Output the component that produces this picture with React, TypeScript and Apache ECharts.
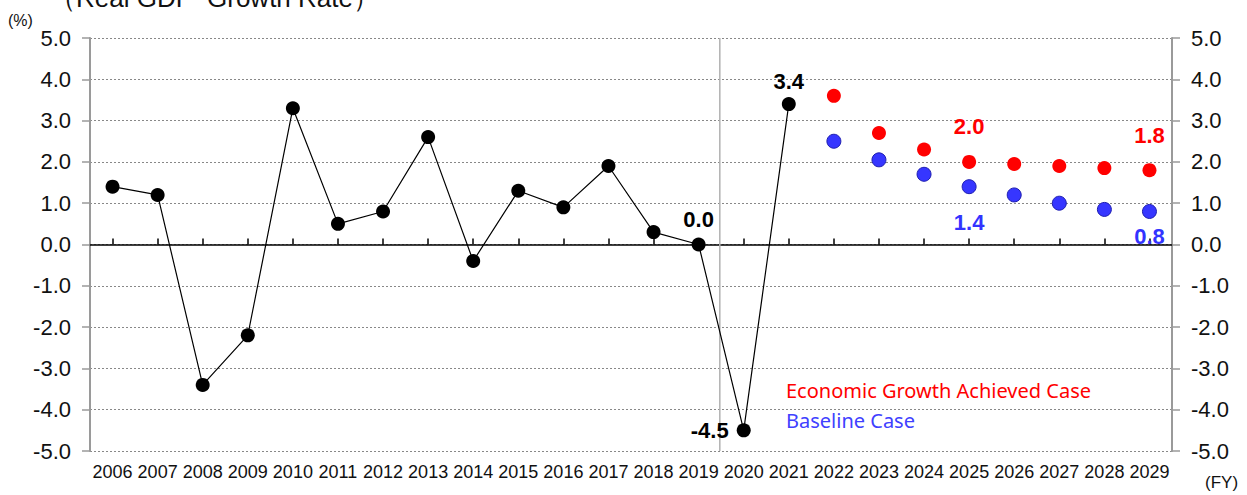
import React, { useEffect, useRef } from "react";
import * as echarts from "echarts";

const years = [
  "2006", "2007", "2008", "2009", "2010", "2011", "2012", "2013", "2014", "2015", "2016", "2017",
  "2018", "2019", "2020", "2021", "2022", "2023", "2024", "2025", "2026", "2027", "2028", "2029",
];
const actual = [1.4, 1.2, -3.4, -2.2, 3.3, 0.5, 0.8, 2.6, -0.4, 1.3, 0.9, 1.9, 0.3, 0.0, -4.5, 3.4];
const growthCase = [3.6, 2.7, 2.3, 2.0, 1.95, 1.9, 1.85, 1.8];
const baselineCase = [2.5, 2.05, 1.7, 1.4, 1.2, 1.0, 0.85, 0.8];
const yTicks = { min: -5, max: 5, interval: 1 };
// divider between actual (to FY2019) and forecast period, in category-index units
const dividerAt = 13.47;

const FONT = "'Liberation Sans', Arial, sans-serif";

export default function App() {
  const ref = useRef<HTMLDivElement>(null);
  useEffect(() => {
    document.body.style.margin = "0";
    const chart = echarts.init(ref.current!, null, { renderer: "svg" });
    const nA = actual.length;
    const blanks = (n: number) => new Array(n).fill(null);

    const lbl = (pos: string, color: string, extra: any = {}) => ({
      show: true,
      position: pos,
      color,
      fontFamily: FONT,
      fontWeight: "bold",
      fontSize: 22,
      formatter: (p: any) => Number(Array.isArray(p.value) ? p.value[1] : p.value).toFixed(1),
      ...extra,
    });

    const actualData: any[] = actual.map((v, i) => {
      const y = years[i];
      if (y === "2019") return { value: v, label: lbl("top", "#000", { distance: 7 }) };
      if (y === "2021") return { value: v, label: lbl("top", "#000", { distance: 5 }) };
      if (y === "2020") return { value: v, label: lbl("left", "#000", { distance: 8 }) };
      return v;
    });
    const growthData: any[] = blanks(nA).concat(
      growthCase.map((v, i) => {
        const y = years[nA + i];
        if (y === "2025" || y === "2029") return { value: v, label: lbl("top", "#ff0000", { distance: 17 }) };
        return v;
      })
    );
    const baseData: any[] = blanks(nA).concat(
      baselineCase.map((v, i) => {
        const y = years[nA + i];
        if (y === "2025") return { value: v, label: lbl("bottom", "#3333ff", { distance: 17 }) };
        if (y === "2029") return { value: v, label: lbl("bottom", "#3333ff", { distance: 7 }) };
        return v;
      })
    );

    const yAxisCommon = {
      type: "value",
      min: yTicks.min,
      max: yTicks.max,
      interval: yTicks.interval,
      axisLine: { show: true, onZero: false, lineStyle: { color: "#9a9a9a", width: 2 } },
      axisTick: { show: true, length: 8, lineStyle: { color: "#9a9a9a", width: 1.5 } },
      axisLabel: {
        color: "#111",
        fontFamily: FONT,
        fontSize: 22,
        margin: 19,
        formatter: (v: number) => v.toFixed(1),
      },
    };

    chart.setOption({
      animation: false,
      grid: { left: 90, right: 75, top: 38, bottom: 44 },
      xAxis: [
        {
          type: "category",
          data: years,
          position: "bottom",
          boundaryGap: true,
          axisLine: { show: false, onZero: false },
          axisTick: { show: false },
          axisLabel: { color: "#111", fontFamily: FONT, fontSize: 18, margin: 12, interval: 0 },
          splitLine: { show: false },
        },
        {
          type: "category",
          data: years,
          position: "top",
          boundaryGap: true,
          axisLine: { show: true, onZero: true, onZeroAxisIndex: 0, lineStyle: { color: "#000", width: 1.5 } },
          axisTick: { show: true, alignWithLabel: true, inside: false, length: 6, lineStyle: { color: "#000", width: 1.5 } },
          axisLabel: { show: false },
          splitLine: { show: false },
        },
        {
          type: "value",
          min: -0.5,
          max: years.length - 0.5,
          show: false,
          position: "bottom",
          axisLine: { onZero: false },
        },
      ],
      yAxis: [
        {
          ...yAxisCommon,
          position: "left",
          splitLine: { show: true, lineStyle: { color: "#888", type: [2, 2], width: 1 } },
        },
        {
          ...yAxisCommon,
          position: "right",
          splitLine: { show: false },
        },
      ],
      series: [
        {
          type: "line",
          name: "divider",
          xAxisIndex: 2,
          yAxisIndex: 0,
          data: [
            [dividerAt, yTicks.min],
            [dividerAt, yTicks.max],
          ],
          symbol: "none",
          silent: true,
          lineStyle: { color: "#b0b0b0", width: 1.5 },
          z: 1,
        },
        {
          type: "line",
          name: "Actual",
          data: actualData,
          xAxisIndex: 0,
          yAxisIndex: 0,
          symbol: "circle",
          symbolSize: 14,
          itemStyle: { color: "#000" },
          lineStyle: { color: "#000", width: 1.2 },
          z: 5,
        },
        {
          type: "scatter",
          name: "Economic Growth Achieved Case",
          data: growthData,
          symbol: "circle",
          symbolSize: 14,
          itemStyle: { color: "#ff0000", opacity: 1 },
          z: 4,
        },
        {
          type: "scatter",
          name: "Baseline Case",
          data: baseData,
          symbol: "circle",
          symbolSize: 14,
          itemStyle: { color: "#3636ff", borderColor: "#1e1eb0", borderWidth: 1, opacity: 1 },
          z: 4,
        },
      ],
      graphic: [
        {
          type: "text",
          x: 50,
          y: -15,
          style: { text: "（Real GDP  Growth Rate）", fill: "#111", font: `26px ${FONT}`, verticalAlign: "top" },
        },
        {
          type: "text",
          x: 8,
          y: 12,
          style: { text: "(%)", fill: "#111", font: `16px ${FONT}`, verticalAlign: "top" },
        },
        {
          type: "text",
          x: 1205,
          y: 474,
          style: { text: "(FY)", fill: "#111", font: `17px ${FONT}`, verticalAlign: "top" },
        },
        {
          type: "text",
          x: 786,
          y: 380,
          style: { text: "Economic Growth Achieved Case", fill: "#ff0000", font: `20px 'Noto Sans', sans-serif`, verticalAlign: "top" },
        },
        {
          type: "text",
          x: 786,
          y: 410,
          style: { text: "Baseline Case", fill: "#4040ff", font: `20px 'Noto Sans', sans-serif`, verticalAlign: "top" },
        },
      ],
    });
    return () => chart.dispose();
  }, []);
  return <div ref={ref} style={{ width: 1247, height: 495 }} />;
}
